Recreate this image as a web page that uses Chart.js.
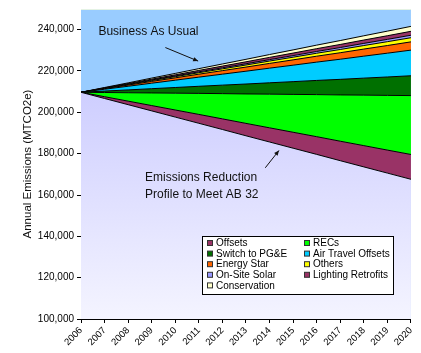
<!DOCTYPE html>
<html>
<head>
<meta charset="utf-8">
<script src="https://cdn.jsdelivr.net/npm/chart.js@4/dist/chart.umd.min.js"></script>
<style>
  html, body { margin: 0; padding: 0; background: #fff; overflow: hidden; }
  #wrap { width: 421px; height: 353px; }
</style>
</head>
<body>
<div id="wrap"><canvas id="emChart"></canvas></div>
<script>
// years on the category axis
const years = ["2006","2007","2008","2009","2010","2011","2012","2013","2014","2015","2016","2017","2018","2019","2020"];

// reduction profile to meet AB 32 (bottom of the stack)
const profile = [209700,206700,203700,200700,197700,194700,191700,188650,185650,182650,179650,176600,173600,170600,167600];

// wedges stacked on top of the profile
const offsets      = [0,860,1710,2570,3430,4290,5140,6000,6860,7710,8570,9430,10290,11140,12000];
const recs         = [0,2040,4070,6110,8140,10180,12210,14250,16290,18320,20360,22390,24430,26460,28500];
const switchPGE    = [0,690,1370,2060,2740,3430,4110,4800,5490,6170,6860,7540,8230,8910,9600];
const airTravel    = [0,890,1770,2660,3540,4430,5310,6200,7090,7970,8860,9740,10630,11510,12400];
const energyStar   = [0,290,570,860,1140,1430,1710,2000,2290,2570,2860,3140,3430,3710,4000];
const others       = [0,140,290,430,570,710,860,1000,1140,1290,1430,1570,1710,1860,2000];
const onSiteSolar  = [0,90,170,260,340,430,510,600,690,770,860,940,1030,1110,1200];
const lighting     = [0,140,270,410,540,680,810,950,1090,1220,1360,1490,1630,1760,1900];
const conservation = [0,170,340,510,690,860,1030,1200,1370,1540,1710,1890,2060,2230,2400];

const yTicks = [100000,120000,140000,160000,180000,200000,220000,240000];

const FONT = "Arial, 'Liberation Sans', sans-serif";

function layer(label, data, color) {
  return {
    label: label, data: data, backgroundColor: color, borderColor: '#000',
    borderWidth: 1, fill: '-1', pointRadius: 0, tension: 0
  };
}

// lavender gradient under the profile
function lavender(ctx) {
  const area = ctx.chart.chartArea;
  if (!area) return '#d0d0ff';
  const g = ctx.chart.ctx.createLinearGradient(0, area.top, 0, area.bottom);
  g.addColorStop(0, '#c0c0ff');
  g.addColorStop(1, '#f4f4ff');
  return g;
}

const bgPlugin = {
  id: 'plotBg',
  beforeDatasetsDraw(chart) {
    const { ctx, chartArea: a } = chart;
    ctx.save();
    ctx.fillStyle = '#99ccff';
    ctx.fillRect(a.left, a.top, a.right - a.left, a.bottom - a.top);
    ctx.strokeStyle = '#e4f2e4';
    ctx.beginPath();
    ctx.moveTo(a.left, a.top + 0.5);
    ctx.lineTo(a.right, a.top + 0.5);
    ctx.stroke();
    ctx.restore();
  }
};

function arrow(ctx, x1, y1, x2, y2) {
  ctx.beginPath();
  ctx.moveTo(x1, y1);
  ctx.lineTo(x2, y2);
  ctx.stroke();
  const ang = Math.atan2(y2 - y1, x2 - x1);
  const L = 5, W = 2.2;
  ctx.beginPath();
  ctx.moveTo(x2, y2);
  ctx.lineTo(x2 - L * Math.cos(ang) + W * Math.sin(ang), y2 - L * Math.sin(ang) - W * Math.cos(ang));
  ctx.lineTo(x2 - L * Math.cos(ang) - W * Math.sin(ang), y2 - L * Math.sin(ang) + W * Math.cos(ang));
  ctx.closePath();
  ctx.fill();
}

const notesPlugin = {
  id: 'notes',
  afterDatasetsDraw(chart) {
    const { ctx } = chart;
    const xs = chart.scales.x, ys = chart.scales.y;
    const X = i => xs.getPixelForDecimal(i / (years.length - 1));
    const Y = v => ys.getPixelForValue(v);
    ctx.save();
    ctx.fillStyle = '#111';
    ctx.strokeStyle = '#111';
    ctx.lineWidth = 1;
    ctx.font = '12px ' + FONT;
    ctx.textBaseline = 'alphabetic';
    ctx.fillText('Business As Usual', X(0.74), Y(237300));
    arrow(ctx, X(3.58), Y(231350), X(4.97), Y(224800));
    ctx.fillText('Emissions Reduction', X(2.72), Y(166780));
    ctx.fillText('Profile to Meet AB 32', X(2.72), Y(158460));
    arrow(ctx, X(7.82), Y(173170), X(8.40), Y(181540));
    ctx.restore();
  }
};

const legendPlugin = {
  id: 'boxLegend',
  afterDraw(chart) {
    const { ctx } = chart;
    const items = chart.data.datasets.slice(1);
    const bx = 202.5, by = 236.5, bw = 191, bh = 58;
    ctx.save();
    ctx.fillStyle = '#fff';
    ctx.fillRect(bx, by, bw, bh);
    ctx.strokeStyle = '#000';
    ctx.lineWidth = 1;
    ctx.strokeRect(bx, by, bw, bh);
    ctx.font = '10px ' + FONT;
    ctx.textBaseline = 'middle';
    items.forEach((d, i) => {
      const col = i % 2, row = Math.floor(i / 2);
      const mx = col === 0 ? 207 : 304;
      const my = 243 + row * 10.6;
      ctx.fillStyle = d.backgroundColor;
      ctx.fillRect(mx + 0.5, my - 2.5, 5, 5);
      ctx.strokeStyle = '#333';
      ctx.strokeRect(mx + 0.5, my - 2.5, 5, 5);
      ctx.fillStyle = '#000';
      ctx.fillText(d.label, mx + 9, my + 0.5);
    });
    ctx.restore();
  }
};

new Chart(document.getElementById('emChart').getContext('2d'), {
  type: 'line',
  data: {
    labels: years,
    datasets: [
      { label: 'Reduction Profile', data: profile, backgroundColor: lavender, borderColor: '#000',
        borderWidth: 1, fill: 'start', pointRadius: 0, tension: 0 },
      layer('Offsets', offsets, '#993366'),
      layer('RECs', recs, '#00ff00'),
      layer('Switch to PG&E', switchPGE, '#007000'),
      layer('Air Travel Offsets', airTravel, '#00ccff'),
      layer('Energy Star', energyStar, '#ff6600'),
      layer('Others', others, '#ffff00'),
      layer('On-Site Solar', onSiteSolar, '#9999ff'),
      layer('Lighting Retrofits', lighting, '#993366'),
      layer('Conservation', conservation, '#ffffcc')
    ]
  },
  options: {
    responsive: true,
    maintainAspectRatio: false,
    animation: false,
    layout: { padding: { top: 7, right: 0, left: 0, bottom: 0 } },
    plugins: { legend: { display: false }, tooltip: { enabled: false } },
    scales: {
      x: {
        offset: false,
        grid: { drawOnChartArea: false, drawTicks: true, tickLength: 4, color: '#000' },
        border: { display: true, color: '#000', width: 1 },
        ticks: { color: '#000', font: { size: 9.5, family: FONT }, minRotation: 45, maxRotation: 45,
                 autoSkip: false, padding: 2 },
        afterFit(scale) { scale.height = 34; }
      },
      y: {
        stacked: true,
        min: 100000,
        max: 250000,
        afterBuildTicks(scale) { scale.ticks = yTicks.map(v => ({ value: v })); },
        grid: { drawOnChartArea: false, drawTicks: true, tickLength: 4, color: '#000' },
        border: { display: true, color: '#000', width: 1 },
        ticks: { color: '#000', font: { size: 10, family: FONT }, padding: 3,
                 callback: v => v.toLocaleString('en-US') },
        title: { display: true, text: 'Annual Emissions (MTCO2e)', color: '#111',
                 font: { size: 11.5, family: FONT }, padding: { top: 21, bottom: 0 } },
        afterFit(scale) { scale.width = 81; }
      }
    }
  },
  plugins: [bgPlugin, notesPlugin, legendPlugin]
});
</script>
</body>
</html>
